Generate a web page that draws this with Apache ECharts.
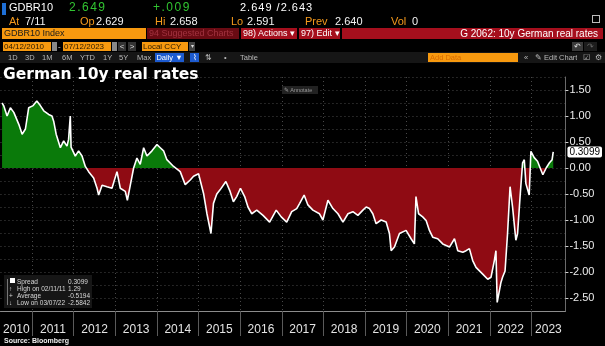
<!DOCTYPE html>
<html><head><meta charset="utf-8">
<script src="https://cdn.jsdelivr.net/npm/echarts@6/dist/echarts.min.js"></script>
<style>
html,body{margin:0;padding:0;background:#000;width:605px;height:346px;overflow:hidden;font-family:"Liberation Sans",Arial,sans-serif;}
#chart{position:absolute;left:0;top:0;width:605px;height:346px;}
.a{position:absolute;white-space:nowrap;overflow:hidden;}
.r1{top:1px;font-size:11px;line-height:13px;color:#fff;}
.r2{top:15px;font-size:11px;line-height:13px;}
.o{color:#f59a1c;}
.w{color:#f2f2f2;}
.g{color:#31c431;letter-spacing:1.5px;font-size:12px;}
.bar{top:28px;height:11px;font-size:9px;line-height:11px;}
.r4{top:42px;height:9px;font-size:8px;line-height:9px;}
.r5{top:53px;height:9px;font-size:7.5px;line-height:9px;color:#b8b8b8;}
.lg{position:absolute;font-size:6.5px;line-height:7px;color:#d8d8d8;white-space:nowrap;}
</style></head>
<body>
<div id="chart"></div>

<div class="a" style="left:2px;top:3px;width:4px;height:12px;background:#1e6fd6;"></div>
<div class="a r1" style="left:9px;">GDBR10</div>
<div class="a r1 g" style="left:69px;">2.649</div>
<div class="a r1 g" style="left:153px;">+.009</div>
<div class="a r1" style="left:240px;letter-spacing:1px;">2.649 /2.643</div>
<div class="a r2 o" style="left:9px;">At</div><div class="a r2 w" style="left:25px;">7/11</div>
<div class="a r2 o" style="left:80px;">Op</div><div class="a r2 w" style="left:96px;">2.629</div>
<div class="a r2 o" style="left:155px;">Hi</div><div class="a r2 w" style="left:170px;">2.658</div>
<div class="a r2 o" style="left:231px;">Lo</div><div class="a r2 w" style="left:247px;">2.591</div>
<div class="a r2 o" style="left:305px;">Prev</div><div class="a r2 w" style="left:335px;">2.640</div>
<div class="a r2 o" style="left:391px;">Vol</div><div class="a r2 w" style="left:412px;">0</div>
<div class="a" style="left:592px;top:15px;width:8px;height:8px;border:1px solid #bbb;box-sizing:border-box;"></div>
<div class="a bar" style="left:2px;width:144px;background:#f7990f;color:#1a1a1a;padding-left:2px;box-sizing:border-box;">GDBR10 Index</div>
<div class="a bar" style="left:147px;width:92px;background:#6a0b13;color:#a2323f;padding-left:2px;box-sizing:border-box;">94 Suggested Charts</div>
<div class="a bar" style="left:241px;width:56px;background:#a50f1d;color:#fff;padding-left:2px;box-sizing:border-box;">98) Actions ▾</div>
<div class="a bar" style="left:299px;width:41px;background:#a50f1d;color:#fff;padding-left:2px;box-sizing:border-box;">97) Edit ▾</div>
<div class="a bar" style="left:342px;width:261px;background:#a50f1d;color:#fff;text-align:right;padding-right:5px;box-sizing:border-box;font-size:10px;">G 2062: 10y German real rates</div>
<div class="a r4" style="left:3px;width:48px;background:#f7990f;color:#2a1a00;padding-left:1px;box-sizing:border-box;">04/12/2010</div>
<div class="a r4" style="left:52px;width:5px;background:#888;"></div>
<div class="a r4" style="left:58px;color:#ddd;">-</div>
<div class="a r4" style="left:63px;width:48px;background:#f7990f;color:#2a1a00;padding-left:1px;box-sizing:border-box;">07/12/2023</div>
<div class="a r4" style="left:112px;width:5px;background:#888;"></div>
<div class="a r4" style="left:118px;width:8px;background:#333;color:#ddd;text-align:center;">&lt;</div>
<div class="a r4" style="left:128px;width:8px;background:#333;color:#ddd;text-align:center;">&gt;</div>
<div class="a r4" style="left:142px;width:46px;background:#f7990f;color:#2a1a00;padding-left:1px;box-sizing:border-box;">Local CCY</div>
<div class="a r4" style="left:189px;width:6px;background:#444;color:#ddd;font-size:6px;text-align:center;">▾</div>
<div class="a r4" style="left:572px;width:11px;background:#3a3a3a;color:#ddd;text-align:center;">↶</div>
<div class="a r4" style="left:584px;width:13px;background:#1c1c1c;color:#666;text-align:center;">↷</div>
<div class="a" style="left:0;top:52px;width:605px;height:11px;background:#161616;"></div>
<div class="a r5" style="left:8px;">1D</div>
<div class="a r5" style="left:25px;">3D</div>
<div class="a r5" style="left:42px;">1M</div>
<div class="a r5" style="left:62px;">6M</div>
<div class="a r5" style="left:80px;">YTD</div>
<div class="a r5" style="left:103px;">1Y</div>
<div class="a r5" style="left:119px;">5Y</div>
<div class="a r5" style="left:137px;">Max</div>
<div class="a r5" style="left:155px;width:29px;background:#1d5bd0;color:#fff;text-align:center;">Daily ▼</div>
<div class="a r5" style="left:190px;width:9px;background:#1d5bd0;color:#fff;text-align:center;">⌇</div>
<div class="a r5" style="left:205px;">⇅</div>
<div class="a r5" style="left:224px;">•</div>
<div class="a r5" style="left:240px;">Table</div>
<div class="a r5" style="left:428px;width:90px;background:#f7990f;color:#d86a00;padding-left:2px;box-sizing:border-box;">Add Data</div>
<div class="a r5" style="left:524px;">«</div>
<div class="a r5" style="left:535px;">✎ Edit Chart</div>
<div class="a r5" style="left:583px;">☑</div>
<div class="a r5" style="left:595px;">⚙</div>

<div class="a" style="left:3px;top:65px;font-family:'DejaVu Sans',sans-serif;font-weight:bold;font-size:15.5px;line-height:18px;color:#fff;">German 10y real rates</div>
<div class="a" style="left:282px;top:86px;width:36px;height:8px;background:#222;color:#999;font-size:5.5px;line-height:8px;padding-left:2px;box-sizing:border-box;">✎ Annotate</div>

<div class="a" style="left:4px;top:275px;width:88px;height:33px;background:#161616;"></div>
<div class="a" style="left:7px;top:279px;width:1px;height:26px;background:#777;"></div>
<div class="a" style="left:10px;top:278px;width:5px;height:5px;background:#fff;"></div>
<div id="stats"></div>

<div class="a" style="left:4px;top:336px;font-weight:bold;font-size:7px;line-height:9px;color:#f0f0f0;">Source: Bloomberg</div>

<script>
// ---- data ----
const dates = [
'2010-04-12','2010-04-26','2010-05-26','2010-06-24','2010-07-24','2010-09-06','2010-10-05','2010-11-03','2010-12-02',
'2011-01-10','2011-02-11','2011-03-14','2011-04-13','2011-05-26','2011-06-24','2011-07-09','2011-07-31','2011-09-06',
'2011-10-05','2011-11-03','2011-11-17','2011-12-02','2011-12-09',
'2012-01-15','2012-02-13','2012-03-14','2012-04-12','2012-05-11','2012-06-24','2012-07-24','2012-08-07','2012-09-06',
'2012-10-19','2012-12-02',
'2013-01-15','2013-02-13','2013-03-29','2013-04-16','2013-05-12','2013-06-10','2013-07-09','2013-08-07','2013-09-06',
'2013-10-05','2013-11-18',
'2014-01-01','2014-01-30','2014-02-28','2014-03-29','2014-05-27','2014-07-24','2014-09-06','2014-09-21','2014-10-20','2014-11-18',
'2015-01-01','2015-02-14','2015-03-15','2015-04-20','2015-05-12','2015-06-10','2015-07-09','2015-08-29','2015-10-05',
'2015-11-03','2015-12-02',
'2016-01-04','2016-02-10','2016-03-10','2016-04-12','2016-05-26','2016-07-20','2016-09-16','2016-11-13','2016-12-27',
'2017-02-13','2017-03-29','2017-05-12','2017-06-07','2017-07-16','2017-08-18','2017-10-01','2017-11-28','2017-12-28',
'2018-02-10','2018-03-26','2018-05-09','2018-06-22','2018-08-05','2018-09-17','2018-10-31','2018-12-14',
'2019-01-12','2019-02-10','2019-03-11','2019-04-09','2019-05-23','2019-07-06','2019-08-04','2019-08-19','2019-09-17',
'2019-10-31','2019-12-28',
'2020-02-10','2020-03-10','2020-03-24','2020-04-16','2020-05-22','2020-06-21','2020-07-20','2020-08-18','2020-10-01','2020-11-14',
'2021-01-12','2021-02-25','2021-03-26','2021-05-09','2021-06-07','2021-07-06','2021-08-04','2021-09-02','2021-10-31','2021-12-14',
'2022-01-12','2022-02-10','2022-02-24','2022-03-07','2022-04-09','2022-04-23','2022-05-15','2022-06-06','2022-06-28',
'2022-07-20','2022-08-18','2022-09-02','2022-09-24','2022-10-16','2022-10-31','2022-11-14','2022-12-13','2022-12-28',
'2023-01-26','2023-02-24','2023-03-14','2023-04-12','2023-05-11','2023-06-09','2023-07-02','2023-07-12'
];
const values = [
1.25,1.20,1.00,1.16,1.07,0.84,0.65,0.75,1.16,
1.20,1.29,1.20,1.10,1.03,1.00,0.90,0.65,0.39,
0.52,0.42,0.55,1.00,0.40,
0.23,0.33,0.23,0.03,-0.07,-0.19,-0.39,-0.52,-0.33,
-0.36,-0.39,
-0.07,-0.39,-0.45,-0.62,-0.33,0.00,0.19,0.07,0.39,
0.23,0.33,
0.45,0.39,0.33,0.16,0.03,-0.07,-0.32,-0.29,-0.23,-0.16,
-0.11,-0.49,-0.87,-1.26,-0.68,-0.50,-0.42,-0.26,-0.45,
-0.65,-0.55,
-0.39,-0.55,-0.75,-0.88,-0.81,-0.91,-1.04,-0.81,-0.94,
-1.04,-0.84,-0.78,-0.68,-0.52,-0.71,-0.81,-0.88,-1.00,
-0.62,-0.78,-0.88,-1.04,-0.88,-0.84,-0.91,-0.81,
-0.75,-0.78,-0.88,-1.07,-1.00,-1.04,-1.26,-1.59,-1.52,
-1.26,-1.20,
-1.36,-1.46,-0.55,-0.88,-0.94,-1.01,-1.20,-1.33,-1.36,-1.46,
-1.52,-1.36,-1.59,-1.62,-1.59,-1.55,-1.78,-1.91,-2.04,-2.14,
-2.10,-1.78,-1.59,-2.5842,-2.20,-2.10,-1.98,-1.26,-0.36,
-0.75,-1.39,-1.26,-0.55,0.10,0.16,-0.30,-0.52,0.32,
0.20,0.13,0.03,-0.13,0.00,0.10,0.16,0.3099
];
const yearLabels = [2010,2011,2012,2013,2014,2015,2016,2017,2018,2019,2020,2021,2022,2023];
const yTickValues = [-2.5,-2,-1.5,-1,-0.5,0,0.5,1,1.5];
const lastValue = 0.3099;
const statLabels = ['Spread','High on 02/11/11','Average','Low on 03/07/22'];
const statValues = ['0.3099','1.29','-0.5194','-2.5842'];

(function(){
  const box = document.getElementById('stats');
  const tops = [278, 285, 292, 299];
  const marks = ['', '↑', '+', '↓'];
  statLabels.forEach((t,i)=>{
    const m = document.createElement('div'); m.className='lg';
    m.style.left='9px'; m.style.top=tops[i]+'px'; m.textContent=marks[i]; box.appendChild(m);
    const l = document.createElement('div'); l.className='lg';
    l.style.left='17px'; l.style.top=tops[i]+'px'; l.textContent=t; box.appendChild(l);
    const v = document.createElement('div'); v.className='lg';
    v.style.left='68px'; v.style.top=tops[i]+'px'; v.textContent=statValues[i]; box.appendChild(v);
  });
})();

function ts(s){ const p=s.split('-'); return +new Date(+p[0], +p[1]-1, +p[2]); }
const xMin = +new Date(2010,2,29);
const xMax = +new Date(2023,9,27);
const yearStarts = yearLabels.slice(1).map(y=>+new Date(y,0,1));
const yearMids = yearLabels.map(y=>{
  const a = Math.max(+new Date(y,0,1), xMin);
  const b = Math.min(+new Date(y+1,0,1), xMax);
  return (a+b)/2;
});
const pairs = dates.map((d,i)=>[ts(d), values[i]]);

const chart = echarts.init(document.getElementById('chart'), null, {renderer:'canvas'});
chart.setOption({
  animation:false,
  backgroundColor:'transparent',
  grid:{left:0,right:38,top:77,bottom:35,containLabel:false},
  xAxis:{
    type:'value', min:xMin, max:xMax, scale:true,
    axisLine:{show:true,onZero:false,lineStyle:{color:'#8c8c8c',width:1}},
    axisTick:{show:true,customValues:yearStarts,length:25,lineStyle:{color:'#5a5a5a'}},
    axisLabel:{customValues:yearMids,formatter:v=>String(new Date(v).getFullYear()),
      color:'#e4e4e4',fontSize:12,margin:13,fontFamily:'Liberation Sans'},
    splitLine:{show:true,lineStyle:{color:'#484848',type:[1,3],width:1}}
  },
  yAxis:[
    {type:'value',min:-2.75,max:1.75,interval:0.25,position:'right',
     axisLine:{show:false},axisTick:{show:false},axisLabel:{show:false},
     splitLine:{show:true,lineStyle:{color:'#484848',type:[1,3],width:1}}},
    {type:'value',min:-2.75,max:1.75,position:'right',
     axisLine:{show:true,lineStyle:{color:'#6a6a6a'}},
     axisTick:{show:true,customValues:yTickValues,length:3,lineStyle:{color:'#cfcfcf'}},
     axisLabel:{customValues:yTickValues,formatter:v=>v.toFixed(2),color:'#ececec',fontSize:11,margin:4,fontFamily:'Liberation Sans'},
     splitLine:{show:false}},
    {type:'value',min:-2.75,max:1.75,position:'right',
     axisLine:{show:false},axisTick:{show:false},splitLine:{show:false},
     axisLabel:{customValues:[lastValue],formatter:v=>v.toFixed(4),color:'#000',backgroundColor:'#ffffff',
       fontSize:10,margin:2,padding:[1,2,0,2],borderRadius:2,fontFamily:'Liberation Sans'}}
  ],
  visualMap:{show:false,type:'piecewise',seriesIndex:0,dimension:1,
    pieces:[{gt:0,lte:10,color:'#0a7a0a'},{gte:-10,lte:0,color:'#8f0b13'}]},
  series:[
    {type:'line',data:pairs,yAxisIndex:0,symbol:'none',silent:true,
     lineStyle:{width:0},areaStyle:{origin:0,opacity:1}},
    {type:'line',data:pairs,yAxisIndex:0,symbol:'none',silent:true,
     lineStyle:{color:'#ffffff',width:1.6}}
  ]
});
</script>
</body></html>
